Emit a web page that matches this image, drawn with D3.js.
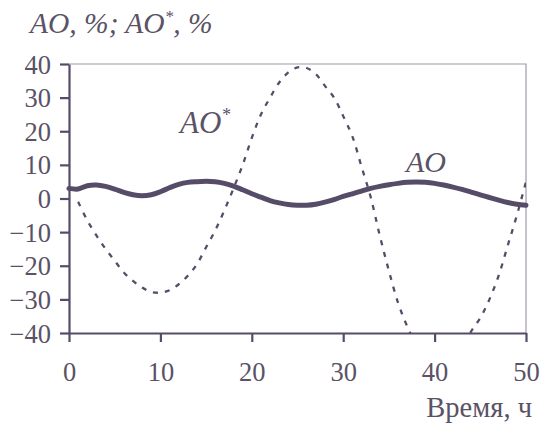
<!DOCTYPE html>
<html>
<head>
<meta charset="utf-8">
<script src="https://cdn.jsdelivr.net/npm/d3@7"></script>
<style>
  body { margin: 0; background: #fff; }
  text { font-family: "Liberation Serif", "Times New Roman", serif; fill: #5a5266; }
</style>
</head>
<body>
<svg id="chart"></svg>
<script>
// данные
const timeAO = [0,1,2,3,4,5,6,7,8,9,10,11,12,13,14,15,16,17,18,19,20,21,22,23,24,25,26,27,28,29,30,31,32,33,34,35,36,37,38,39,40,41,42,43,44,45,46,47,48,49,50];
const valuesAO = [3,2.8,3.8,4,3.6,2.8,1.8,1.1,0.8,1.1,2,3.2,4.2,4.8,5,5.1,5,4.5,3.7,2.6,1.4,0.4,-0.6,-1.3,-1.8,-2,-2,-1.7,-1.1,-0.3,0.6,1.4,2.2,3,3.6,4.1,4.5,4.8,4.9,4.8,4.5,4,3.4,2.7,1.9,1.1,0.3,-0.5,-1.2,-1.7,-2];
const timeAOstar = [1,2,3,4,5,6,7,8,9,10,11,12,13,14,15,16,17,18,19,20,21,22,23,24,25,26,27,28,29,30,31,32,33,34,35,36,37,38,39,40,41,42,43,44,45,46,47,48,49,50];
const valuesAOstar = [-1,-6.5,-11,-15,-18.5,-22,-24.5,-26.5,-27.8,-28,-27.3,-25.5,-23,-19.5,-14.5,-9.5,-3.5,3,10,18,25,30,34.5,37.5,39,38.8,37,33.5,30,24.5,18.5,9.5,0.5,-11,-21.5,-31,-38,-43.5,-47.5,-49.5,-50,-48.5,-45,-39.5,-35.5,-30,-23,-14,-5,5];
const xTicks = [0,10,20,30,40,50];
const yTicks = [40,30,20,10,0,-10,-20,-30,-40];

const W = 542, H = 425;
const margin = { top: 64, right: 16, bottom: 92, left: 69 };
const width = W - margin.left - margin.right;
const height = H - margin.top - margin.bottom;
const ink = "#574c68";

const svg = d3.select("#chart").attr("width", W).attr("height", H);
const g = svg.append("g").attr("transform", `translate(${margin.left},${margin.top})`);

const x = d3.scaleLinear().domain([0, 50]).range([0, width]);
const y = d3.scaleLinear().domain([-40, 40]).range([height, 0]);

// рамка сверху и справа
g.append("path")
  .attr("d", `M0,0H${width}V${height}`)
  .attr("fill", "none")
  .attr("stroke", "#a09aa8")
  .attr("stroke-width", 1.2);

g.append("clipPath").attr("id", "plot")
  .append("rect").attr("width", width).attr("height", height);

// оси
const yAxis = g.append("g")
  .call(d3.axisLeft(y).tickValues(yTicks).tickSize(9).tickPadding(9).tickSizeOuter(0));
const xAxis = g.append("g")
  .attr("transform", `translate(0,${height})`)
  .call(d3.axisBottom(x).tickValues(xTicks).tickSize(9).tickPadding(23).tickSizeOuter(0));

[yAxis, xAxis].forEach(a => {
  a.selectAll("path, line").attr("stroke", ink).attr("stroke-width", 2.2);
  a.selectAll("text").style("font-size", "26.5px").attr("fill", "#5a5266");
});
yAxis.selectAll("text").attr("dy", "0.34em");
xAxis.selectAll("text").attr("dy", "0.6em");

const line = d3.line().curve(d3.curveCatmullRom.alpha(0.5));

// AO* — пунктир
g.append("path")
  .attr("clip-path", "url(#plot)")
  .attr("d", line(timeAOstar.map((t, i) => [x(t), y(valuesAOstar[i])])))
  .attr("fill", "none")
  .attr("stroke", ink)
  .attr("stroke-width", 2.3)
  .attr("stroke-dasharray", "5,7");

// AO — толстая линия
g.append("path")
  .attr("d", line(timeAO.map((t, i) => [x(t), y(valuesAO[i])])))
  .attr("fill", "none")
  .attr("stroke", ink)
  .attr("stroke-width", 5)
  .attr("stroke-linecap", "round");

// подписи
const title = svg.append("text").attr("x", 30).attr("y", 33)
  .style("font-size", "29.5px").style("font-style", "italic");
title.append("tspan").text("AO, %; AO");
title.append("tspan").attr("dy", -11).style("font-size", "17px").text("*");
title.append("tspan").attr("dy", 11).text(", %");

const lblStar = svg.append("text").attr("x", 180).attr("y", 133)
  .style("font-size", "31px").style("font-style", "italic");
lblStar.append("tspan").text("AO");
lblStar.append("tspan").attr("dy", -12).style("font-size", "18px").text("*");

svg.append("text").attr("x", 406).attr("y", 172)
  .style("font-size", "30px").style("font-style", "italic").text("AO");

svg.append("text").attr("x", 532).attr("y", 417)
  .attr("text-anchor", "end").style("font-size", "28.5px").text("Время, ч");
</script>
</body>
</html>
